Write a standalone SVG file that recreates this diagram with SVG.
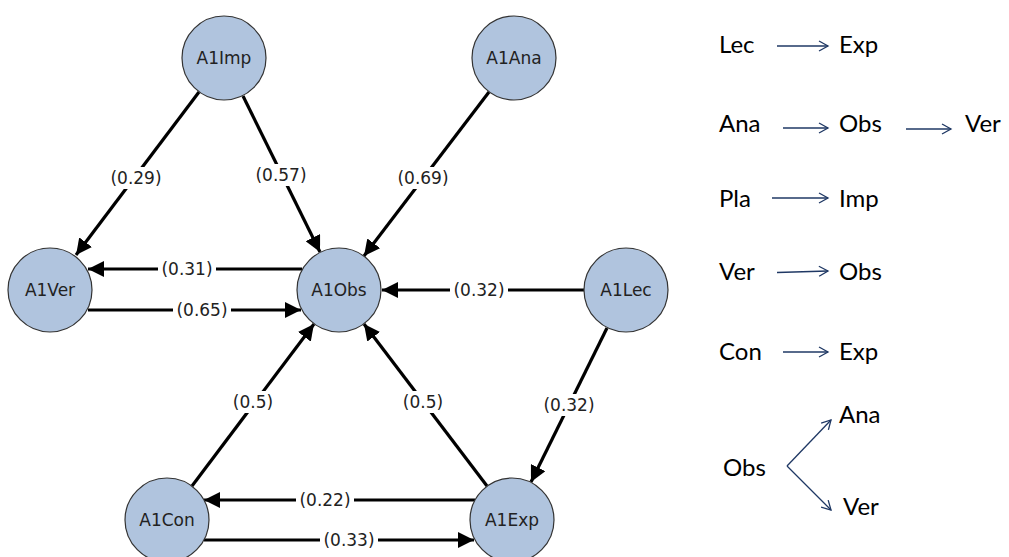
<svg xmlns="http://www.w3.org/2000/svg" width="1009" height="557" viewBox="0 0 1009 557">
  <style>
    .node circle { fill: #b0c4de; stroke: #333333; stroke-width: 1.2; }
    .node text { font-family: "DejaVu Sans", sans-serif; font-size: 17px; fill: #222222; text-anchor: middle; dominant-baseline: central; }
    .edge { stroke: #000000; stroke-width: 3.2; fill: none; marker-end: url(#head); }
    .lbl rect { fill: #ffffff; }
    .lbl text { font-family: "DejaVu Sans", sans-serif; font-size: 17px; fill: #222222; text-anchor: middle; dominant-baseline: central; }
    .note { font-family: Lato, "Open Sans", sans-serif; font-size: 24px; fill: #000000; }
    .flow { stroke: #1f3864; stroke-width: 1.3; fill: none; marker-end: url(#open); }
  </style>
  <defs>
    <marker id="head" markerUnits="userSpaceOnUse" markerWidth="17" markerHeight="16" refX="16" refY="8" orient="auto">
      <path d="M0,0 L16,8 L0,16 z" fill="#000000"/>
    </marker>
    <marker id="open" markerUnits="userSpaceOnUse" markerWidth="12" markerHeight="12" refX="10" refY="6" orient="auto">
      <path d="M1,1 L10,6 L1,11" fill="none" stroke="#1f3864" stroke-width="1.3"/>
    </marker>
  </defs>

  <!-- weighted connectors -->
  <g id="connectors">
    <line class="edge" x1="199" y1="92" x2="76" y2="255"/>
    <line class="edge" x1="243" y1="96" x2="320" y2="252"/>
    <line class="edge" x1="489" y1="92" x2="364" y2="256"/>
    <line class="edge" x1="302" y1="269" x2="88" y2="269"/>
    <line class="edge" x1="88" y1="310" x2="301" y2="310"/>
    <line class="edge" x1="584" y1="290" x2="382" y2="290"/>
    <line class="edge" x1="607" y1="328" x2="531" y2="482"/>
    <line class="edge" x1="192" y1="486" x2="314" y2="324"/>
    <line class="edge" x1="487" y1="486" x2="364" y2="324"/>
    <line class="edge" x1="475" y1="500" x2="204" y2="500"/>
    <line class="edge" x1="204" y1="540" x2="474" y2="540"/>

    <g class="lbl"><rect x="107" y="167" width="58" height="22"/><text x="136" y="178">(0.29)</text></g>
    <g class="lbl"><rect x="252" y="164" width="58" height="22"/><text x="281" y="175">(0.57)</text></g>
    <g class="lbl"><rect x="394" y="167" width="58" height="22"/><text x="423" y="178">(0.69)</text></g>
    <g class="lbl"><rect x="158" y="258" width="58" height="22"/><text x="187" y="269">(0.31)</text></g>
    <g class="lbl"><rect x="173" y="299" width="58" height="22"/><text x="202" y="310">(0.65)</text></g>
    <g class="lbl"><rect x="450" y="279" width="58" height="22"/><text x="479" y="290">(0.32)</text></g>
    <g class="lbl"><rect x="540" y="394" width="58" height="22"/><text x="569" y="405">(0.32)</text></g>
    <g class="lbl"><rect x="230" y="391" width="46" height="22"/><text x="253" y="402">(0.5)</text></g>
    <g class="lbl"><rect x="400" y="391" width="46" height="22"/><text x="423" y="402">(0.5)</text></g>
    <g class="lbl"><rect x="296" y="489" width="58" height="22"/><text x="325" y="500">(0.22)</text></g>
    <g class="lbl"><rect x="320" y="529" width="58" height="22"/><text x="349" y="540">(0.33)</text></g>
  </g>

  <!-- nodes -->
  <g id="A1Imp" class="node"><circle cx="224" cy="58" r="42"/><text x="224" y="58">A1Imp</text></g>
  <g id="A1Ana" class="node"><circle cx="514" cy="58" r="42"/><text x="514" y="58">A1Ana</text></g>
  <g id="A1Ver" class="node"><circle cx="50" cy="290" r="42"/><text x="50" y="290">A1Ver</text></g>
  <g id="A1Obs" class="node"><circle cx="339" cy="290" r="42"/><text x="339" y="290">A1Obs</text></g>
  <g id="A1Lec" class="node"><circle cx="626" cy="290" r="42"/><text x="626" y="290">A1Lec</text></g>
  <g id="A1Con" class="node"><circle cx="167" cy="520" r="42"/><text x="167" y="520">A1Con</text></g>
  <g id="A1Exp" class="node"><circle cx="512" cy="520" r="42"/><text x="512" y="520">A1Exp</text></g>

  <!-- sequence notes -->
  <g id="sequences">
    <text class="note" x="719" y="53">Lec</text>
    <line class="flow" x1="777" y1="46" x2="828" y2="46"/>
    <text class="note" x="839" y="53">Exp</text>

    <text class="note" x="719" y="132">Ana</text>
    <line class="flow" x1="783" y1="128" x2="828" y2="128"/>
    <text class="note" x="839" y="132">Obs</text>
    <line class="flow" x1="906" y1="129" x2="951" y2="129"/>
    <text class="note" x="965" y="132">Ver</text>

    <text class="note" x="719" y="207">Pla</text>
    <line class="flow" x1="772" y1="198" x2="828" y2="198"/>
    <text class="note" x="839" y="207">Imp</text>

    <text class="note" x="719" y="280">Ver</text>
    <line class="flow" x1="777" y1="272.5" x2="828" y2="271"/>
    <text class="note" x="839" y="280">Obs</text>

    <text class="note" x="719" y="360">Con</text>
    <line class="flow" x1="783" y1="352" x2="828" y2="352"/>
    <text class="note" x="839" y="360">Exp</text>

    <text class="note" x="723" y="476">Obs</text>
    <line class="flow" x1="787" y1="466" x2="831" y2="420"/>
    <line class="flow" x1="787" y1="466" x2="831" y2="510"/>
    <text class="note" x="839" y="423">Ana</text>
    <text class="note" x="843" y="515">Ver</text>
  </g>
</svg>
